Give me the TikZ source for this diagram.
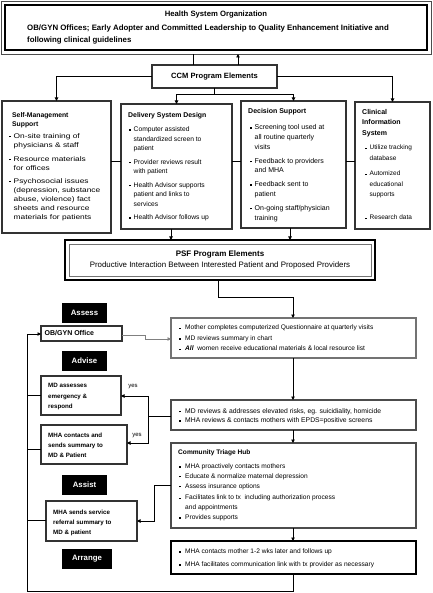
\documentclass[tikz,border=0pt]{standalone}
\usepackage{fontspec}
\setmainfont{Liberation Sans}
\newfontfamily\widefont[FakeStretch=1.25]{Liberation Sans}
\usetikzlibrary{arrows.meta}
\newcommand\fs[2]{\fontsize{#1}{#2}\selectfont}
\newcommand\bu{\makebox[4.5pt][l]{\rule[0.9pt]{1.5pt}{1.5pt}}}
\newcommand\hg{\hspace*{4.5pt}}
\newcommand\bd{\makebox[6pt][l]{\rule[0.8pt]{1.4pt}{1.4pt}}}
\newcommand\hd{\hspace*{6pt}}
\begin{document}
\begin{tikzpicture}[x=1pt,y=-1pt,
  box/.style={draw=black!80, line width=1.3pt, anchor=north west, inner sep=0pt, outer sep=0pt},
  lbox/.style={box, line width=1.1pt},
  gbox/.style={box, draw=black!55, line width=1.1pt},
  tag/.style={anchor=north west, fill=black, inner sep=0pt, outer sep=0pt, text=white, font=\bfseries\fs{7.8}{9}},
  txt/.style={anchor=north west, inner sep=0pt, align=left},
  ln/.style={line width=0.9pt, draw=black},
  arr/.style={ln, -{Triangle[length=3.5pt,width=3.5pt]}},
  garr/.style={line width=0.9pt, draw=black!50, -{Triangle[length=3.5pt,width=3.5pt]}}
]
\useasboundingbox (0,0) rectangle (432,593);
\fill[white] (0,0) rectangle (432,593);

% top box
\node[box, draw=black!70, line width=0.7pt, minimum width=430, minimum height=53] (topo) at (1,1) {};
\node[box, draw=black, line width=2pt, minimum width=422, minimum height=45] (top) at (5,5) {};
\node[font=\bfseries\fs{7.7}{9}, inner sep=0pt] (toph) at (216,15) {Health System Organization};
\node[anchor=west, inner sep=0pt, font=\bfseries\fs{7.85}{9}] (topl) at (27,28.5) {OB/GYN Offices; Early Adopter and Committed Leadership to Quality Enhancement Initiative and};
\node[anchor=west, inner sep=0pt, font=\bfseries\fs{7.85}{9}] (topl2) at (27,40) {following clinical guidelines};

% CCM
\node[box, line width=1.8pt, minimum width=125, minimum height=23] (ccm) at (152,65) {};
\node[font=\bfseries\fs{7.6}{9}, inner sep=0pt] (ccmt) at (ccm.center) {CCM Program Elements};
\coordinate (c1) at (193,0);
\coordinate (c2) at (238,0);
\draw[ln] (ccm.north -| c1) -- (topo.south -| c1);
\draw[arr] (ccm.north -| c2) -- (topo.south -| c2);

% four element boxes
\node[box, minimum width=109, minimum height=132] (self) at (2,101) {};
\node[box, minimum width=111, minimum height=125] (deliv) at (121,104) {};
\node[box, minimum width=105, minimum height=127] (dec) at (241,101) {};
\node[box, minimum width=75, minimum height=127] (clin) at (355,102) {};

\draw[arr] (ccm.west) -| (self.north);
\draw[arr] (ccm.east) -| (clin.north);
\draw[ln] (ccm.south) -- ++(0,6) coordinate (ccmb);
\draw[arr] (ccmb) -| (deliv.north);
\draw[arr] (ccmb) -| (dec.north);

\coordinate (mid) at (0,161);
\draw[ln] (self.east |- mid) -- (deliv.west |- mid);
\draw[ln] (deliv.east |- mid) -- (dec.west |- mid);
\draw[ln] (dec.east |- mid) -- (clin.west |- mid);

\node[txt, font=\bfseries\fs{6.8}{9}] (selfh) at (12,112) {Self-Management\\Support};
\node[txt, font=\widefont\fs{6.7}{9}] (selfb) at (9,133) {\bu On-site training of\\ \hg physicians \& staff\\[5pt]
\bu Resource materials\\ \hg for offices\\[4pt]
\bu Psychosocial issues\\ \hg (depression, substance\\ \hg abuse, violence) fact\\ \hg sheets and resource\\ \hg materials for patients};

\node[txt, font=\bfseries\fs{6.9}{9}] (delh) at (128,112) {Delivery System Design};
\node[txt, font=\fs{6.7}{9.5}] (delb) at (129,126.5) {\bu Computer assisted\\ \hg standardized screen to\\ \hg patient\\[4pt]
\bu Provider reviews result\\ \hg with patient\\[4pt]
\bu Health Advisor supports\\ \hg patient and links to\\ \hg services\\[4pt]
\bu Health Advisor follows up};

\node[txt, font=\bfseries\fs{7}{9}] (dech) at (248,108.5) {Decision Support};
\node[txt, font=\fs{7}{9.8}] (decb) at (250,124.5) {\bu Screening tool used at\\ \hg all routine quarterly\\ \hg visits\\[4pt]
\bu Feedback to providers\\ \hg and MHA\\[4pt]
\bu Feedback sent to\\ \hg patient\\[4pt]
\bu On-going staff/physician\\ \hg training};

\node[txt, font=\bfseries\fs{7}{10.5}] (clih) at (362,109) {Clinical\\Information\\System};
\node[txt, font=\fs{6.5}{10.5}] (clib) at (365,145) {\bu Utilize tracking\\ \hg database\\[5pt]
\bu Automized\\ \hg educational\\ \hg supports\\[12.5pt]
\bu Research data};

% PSF
\node[box, draw=black, line width=2.5pt, minimum width=310, minimum height=40] (psf) at (65,240) {};
\node[box, draw=black!55, line width=0.7pt, minimum width=302, minimum height=32] (psfi) at (69,244) {};
\node[font=\bfseries\fs{8}{9}, inner sep=0pt] (psfh) at (220,254) {PSF Program Elements};
\node[font=\fs{7.9}{9}, inner sep=0pt] (psft) at (220,265.5) {Productive Interaction Between Interested Patient and Proposed Providers};
\coordinate (d1) at (171,0);
\coordinate (d2) at (290,0);
\draw[arr] (deliv.south -| d1) -- (psf.north -| d1);
\draw[arr] (dec.south -| d2) -- (psf.north -| d2);

% lower right column
\node[gbox, minimum width=245, minimum height=40] (q1) at (171,318) {};
\node[gbox, draw=black!70, minimum width=245, minimum height=30] (q2) at (171,400) {};
\node[gbox, draw=black!70, minimum width=245, minimum height=85] (q3) at (171,443) {};
\node[box, draw=black, line width=1.4pt, minimum width=245, minimum height=33] (q4) at (171,541) {};

\node[txt, font=\fs{6.6}{10.5}] (q1t) at (179,325) {\bd Mother completes computerized Questionnaire at quarterly visits\\
\bd MD reviews summary in chart\\
\bd \textbf{\textit{All}}\ \ women receive educational materials \& local resource list};
\node[txt, font=\fs{6.8}{9.5}] (q2t) at (179,408) {\bd MD reviews \& addresses elevated risks, eg. suicidiality, homicide\\
\bd MHA reviews \& contacts mothers with EPDS=positive screens};
\node[txt, font=\bfseries\fs{6.6}{9}] (q3h) at (178,450) {Community Triage Hub};
\node[txt, font=\fs{6.6}{9.8}] (q3t) at (179,463.5) {\bd MHA proactively contacts mothers\\
\bd Educate \& normalize maternal depression\\
\bd Assess insurance options\\[2pt]
\bd Facilitates link to tx\ \ including authorization process\\ \hd and appointments\\
\bd Provides supports};
\node[txt, font=\fs{6.6}{13}] (q4t) at (179,548.5) {\bd MHA contacts mother 1-2 wks later and follows up\\
\bd MHA facilitates communication link with tx provider as necessary};

\coordinate (x3) at (293,0);
\coordinate (x4) at (218,0);
\draw[ln] (psf.south -| x4) -- (218,297) coordinate (p1) -- (p1 -| x3) coordinate (p2);
\draw[arr] (p2) -- (q1.north -| x3);
\draw[arr] (q1.south -| x3) -- (q2.north -| x3);
\draw[arr] (q2.south -| x3) -- (q3.north -| x3);
\draw[arr] (q3.south -| x3) -- (q4.north -| x3);

% left column
\node[tag, minimum width=45, minimum height=20] (assess) at (62,303) {Assess};
\node[tag, minimum width=45, minimum height=20] (advise) at (62,351) {Advise};
\node[tag, minimum width=45, minimum height=20] (assist) at (62,475) {Assist};
\node[tag, minimum width=50, minimum height=20] (arrange) at (62,549) {Arrange};

\node[lbox, minimum width=81, minimum height=15] (obgyn) at (41,326) {};
\node[anchor=west, inner sep=0pt, font=\bfseries\fs{7}{8}] (obgynt) at (44.5,333.5) {OB/GYN Office};
\node[lbox, minimum width=80, minimum height=39] (md) at (41,376) {};
\node[txt, font=\bfseries\fs{6.2}{10.3}] (mdt) at (48,383.5) {MD assesses\\emergency \&\\respond};
\node[lbox, minimum width=86, minimum height=39] (mhac) at (41,425) {};
\node[txt, font=\bfseries\fs{6.2}{10}] (mhact) at (48,433) {MHA contacts and\\sends summary to\\MD \& Patient};
\node[lbox, minimum width=91, minimum height=40] (mhas) at (46,501) {};
\node[txt, font=\bfseries\fs{6.2}{9.7}] (mhast) at (53,510) {MHA sends service\\referral summary to\\MD \& patient};

\coordinate (y1) at (0,335);
\coordinate (y2) at (0,339);
\coordinate (y3) at (0,416);
\coordinate (y4) at (0,396);
\coordinate (y5) at (0,443);
\coordinate (y6) at (0,485);
\coordinate (y7) at (0,521);
\coordinate (y8) at (0,334);
\coordinate (y9) at (0,395);
\coordinate (y10) at (0,449);
\coordinate (y11) at (0,520);

% OB/GYN -> Q1
\draw[garr] (obgyn.east |- y1) -- (145,335) -- (145,339) -- (q1.west |- y2);

% Q2 -> MD / MHA contacts
\draw[ln] (q2.west |- y3) -- (148,416) coordinate (br);
\draw[arr] (br) -- (148,396) -- (md.east |- y4);
\draw[arr] (br) -- (148,443) -- (mhac.east |- y5);
\node[font=\fs{6}{8}, inner sep=0pt] (yes1) at (133,387) {yes};
\node[font=\fs{6}{8}, inner sep=0pt] (yes2) at (137,436) {yes};

% Q3 -> MHA sends
\draw[arr] (q3.west |- y6) -- (154,485) -- (154,521) -- (mhas.east |- y7);

% loop back
\draw[arr] (q4.south -| x3) -- (293,591) -- (27,591) -- (27,334) -- (obgyn.west |- y8);
\draw[ln] (md.west |- y9) -- (27,395);
\draw[ln] (mhac.west |- y10) -- (27,449);
\draw[ln] (mhas.west |- y11) -- (27,520);
\end{tikzpicture}
\end{document}
